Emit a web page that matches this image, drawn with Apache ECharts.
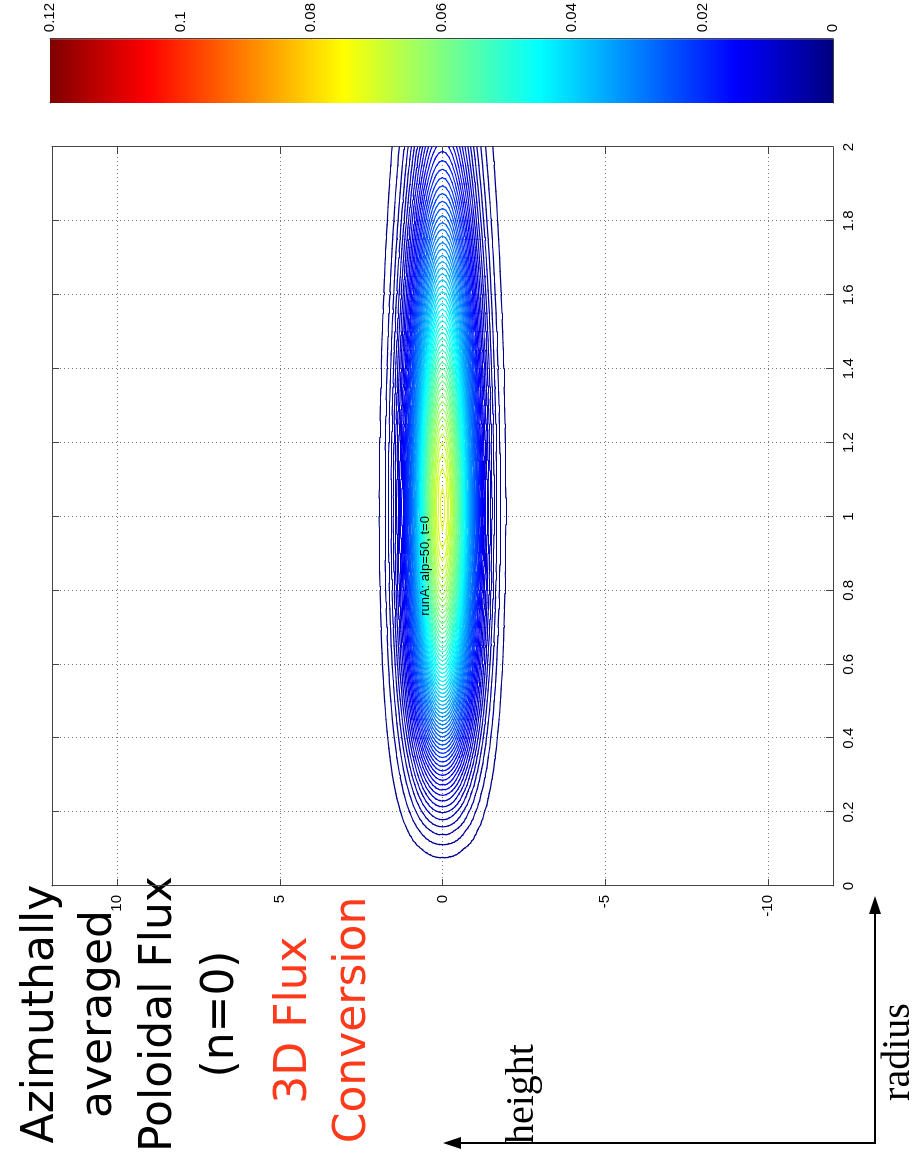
<!DOCTYPE html>
<html>
<head>
<meta charset="utf-8">
<title>runA: alp=50, t=0</title>
<script src="https://cdn.jsdelivr.net/npm/echarts@6/dist/echarts.min.js"></script>
<style>
  html, body { margin: 0; padding: 0; background: #fff; overflow: hidden; }
  /* the figure is drawn landscape and turned a quarter left, like the scanned page */
  #main {
    position: absolute; left: 0; top: 0;
    width: 1160px; height: 915px;
    transform-origin: 0 0;
    transform: translate(0, 1160px) rotate(-90deg);
  }
</style>
</head>
<body>
<div id="main"></div>
<script>
// radius samples (x axis) and the flux read along the midplane (height = 0)
var radius = [0, 0.05, 0.1, 0.15, 0.2, 0.25, 0.3, 0.35, 0.4, 0.45, 0.5, 0.55, 0.6, 0.65, 0.7, 0.75, 0.8, 0.85, 0.9, 0.95,
  1, 1.05, 1.1, 1.15, 1.2, 1.25, 1.3, 1.35, 1.4, 1.45, 1.5, 1.55, 1.6, 1.65, 1.7, 1.75, 1.8, 1.85, 1.9, 1.95, 2];
var midplaneFlux = [0, 0.00047, 0.00187, 0.00417, 0.0073, 0.01116, 0.01565, 0.02065, 0.02601, 0.0316, 0.03727,
  0.04288, 0.04829, 0.05337, 0.058, 0.0621, 0.06559, 0.06839, 0.07049, 0.07187, 0.0725, 0.07244, 0.07169,
  0.07033, 0.0684, 0.06597, 0.06312, 0.05993, 0.05648, 0.05282, 0.04907, 0.04525, 0.04143, 0.0377, 0.03407,
  0.03059, 0.02728, 0.02417, 0.0213, 0.01865, 0.01622];

// |height| samples and how the flux falls off away from the midplane (same above and below)
var heightOffsets = [0, 0.1, 0.2, 0.3, 0.4, 0.5, 0.6, 0.7, 0.8, 0.9, 1, 1.1, 1.2, 1.3, 1.4, 1.5, 1.6, 1.7, 1.8, 1.9,
  2, 2.1, 2.2, 2.3, 2.4, 2.5, 2.6, 2.7, 2.8, 2.9, 3];
var heightFalloff = [1, 0.98916, 0.95735, 0.90659, 0.84001, 0.76154, 0.67554, 0.58629, 0.4979, 0.41372, 0.33638,
  0.26757, 0.20825, 0.1586, 0.11817, 0.08616, 0.06146, 0.0429, 0.0293, 0.01958, 0.0128, 0.00819, 0.00512,
  0.00314, 0.00188, 0.0011, 0.00063, 0.00035, 0.00019, 0.0001, 0.00006];

// contour levels, colour scale of the colorbar
var levelCount = 60;
var levelStep = 0.0012;
var colorMin = 0;
var colorMax = 0.12;
var colorbarInterval = 0.02;

var radiusRange = [0, 2];
var heightRange = [-12, 12];

var titleText = 'runA: alp=50, t=0';
var noteLines = ['Azimuthally', 'averaged', 'Poloidal Flux', '(n=0)'];
var redLines = ['3D Flux', 'Conversion'];

// ---------------------------------------------------------------

// full height column, mirrored about the midplane
var heights = [];
var falloffCol = [];
for (var k = heightOffsets.length - 1; k > 0; k--) {
  heights.push(-heightOffsets[k]);
  falloffCol.push(heightFalloff[k]);
}
for (var k = 0; k < heightOffsets.length; k++) {
  heights.push(heightOffsets[k]);
  falloffCol.push(heightFalloff[k]);
}

var field = radius.map(function (r, i) {
  return heights.map(function (h, j) { return midplaneFlux[i] * falloffCol[j]; });
});

// MATLAB jet
function jet(v) {
  var t = (v - colorMin) / (colorMax - colorMin);
  function c(x) { return Math.round(255 * Math.max(0, Math.min(1, x))); }
  return 'rgb(' + c(1.5 - Math.abs(4 * t - 3)) + ',' + c(1.5 - Math.abs(4 * t - 2)) + ',' + c(1.5 - Math.abs(4 * t - 1)) + ')';
}

// contour segments by marching triangles on the radius x height grid
function crossTri(a, b, c, L, out) {
  var pts = [];
  [[a, b], [b, c], [c, a]].forEach(function (e) {
    var u = e[0], v = e[1];
    if ((u[2] >= L) !== (v[2] >= L)) {
      var t = (L - u[2]) / (v[2] - u[2]);
      pts.push([u[0] + t * (v[0] - u[0]), u[1] + t * (v[1] - u[1])]);
    }
  });
  if (pts.length === 2) out.push({ coords: pts });
}

function contour(L) {
  var segs = [];
  for (var i = 0; i < radius.length - 1; i++) {
    for (var j = 0; j < heights.length - 1; j++) {
      var p00 = [radius[i], heights[j], field[i][j]];
      var p01 = [radius[i], heights[j + 1], field[i][j + 1]];
      var p10 = [radius[i + 1], heights[j], field[i + 1][j]];
      var p11 = [radius[i + 1], heights[j + 1], field[i + 1][j + 1]];
      crossTri(p00, p01, p11, L, segs);
      crossTri(p00, p11, p10, L, segs);
    }
  }
  return segs;
}

var series = [];
for (var n = 1; n <= levelCount; n++) {
  var L = n * levelStep;
  series.push({
    type: 'lines',
    coordinateSystem: 'cartesian2d',
    xAxisIndex: 0,
    yAxisIndex: 0,
    silent: true,
    large: false,
    animation: false,
    z: 3,
    lineStyle: { color: jet(L), width: 1.2, opacity: 1, cap: 'round' },
    data: contour(L)
  });
}

// colorbar
series.push({
  type: 'bar',
  xAxisIndex: 2,
  yAxisIndex: 2,
  barWidth: '100%',
  silent: true,
  animation: false,
  itemStyle: {
    color: new echarts.graphic.LinearGradient(0, 1, 0, 0, [
      { offset: 0, color: jet(colorMin) },
      { offset: 0.125, color: 'rgb(0,0,255)' },
      { offset: 0.375, color: 'rgb(0,255,255)' },
      { offset: 0.625, color: 'rgb(255,255,0)' },
      { offset: 0.875, color: 'rgb(255,0,0)' },
      { offset: 1, color: jet(colorMax) }
    ])
  },
  data: [colorMax]
});

var edge = '#444';
var dotted = { show: true, lineStyle: { color: '#777', type: [1, 3], width: 1 } };

function boxAxis(extra) {
  var base = {
    type: 'value',
    axisLine: { show: true, onZero: false, lineStyle: { color: edge, width: 1 } },
    axisTick: { show: true, inside: true, length: 7, lineStyle: { color: edge } },
    axisLabel: { show: false },
    splitLine: { show: false }
  };
  for (var key in extra) base[key] = extra[key];
  return base;
}

var label = { show: true, color: '#000', fontSize: 15, fontFamily: 'Liberation Sans' };

var graphic = [
  {
    type: 'text', x: 594, y: 425, z: 10,
    style: { text: titleText, font: '13px "Liberation Sans"', fill: '#000',
      textAlign: 'center', align: 'center', textVerticalAlign: 'middle', verticalAlign: 'middle' }
  }
];
var noteY = [42, 100, 160, 222];
noteLines.forEach(function (t, i) {
  graphic.push({
    type: 'text', x: 146, y: noteY[i],
    style: { text: t, font: '44px "DejaVu Sans"', fill: '#000',
      textAlign: 'center', align: 'center', textVerticalAlign: 'middle', verticalAlign: 'middle' }
  });
});
var redY = [295, 354];
redLines.forEach(function (t, i) {
  graphic.push({
    type: 'text', x: 140, y: redY[i],
    style: { text: t, font: '44px "DejaVu Sans"', fill: '#ff3a1a',
      textAlign: 'center', align: 'center', textVerticalAlign: 'middle', verticalAlign: 'middle' }
  });
});
// height / radius arrows
graphic.push(
  { type: 'polyline', shape: { points: [[17, 875], [17, 455]] }, style: { stroke: '#000', lineWidth: 2, fill: null } },
  { type: 'polygon', shape: { points: [[17, 443], [11, 461], [23, 461]] }, style: { fill: '#000' } },
  { type: 'polyline', shape: { points: [[16, 875], [252, 875]] }, style: { stroke: '#000', lineWidth: 2, fill: null } },
  { type: 'polygon', shape: { points: [[264, 875], [246, 869], [246, 881]] }, style: { fill: '#000' } },
  { type: 'text', x: 16, y: 522,
    style: { text: 'height', font: '40px "Liberation Serif"', fill: '#000',
      textAlign: 'left', align: 'left', textVerticalAlign: 'middle', verticalAlign: 'middle' } },
  { type: 'text', x: 108, y: 898,
    style: { text: 'radius', font: '40px "Liberation Serif"', fill: '#000',
      textAlign: 'center', align: 'center', textVerticalAlign: 'middle', verticalAlign: 'middle' } }
);

var chart = echarts.init(document.getElementById('main'), null, { renderer: 'canvas' });
chart.setOption({
  animation: false,
  backgroundColor: '#fff',
  textStyle: { fontFamily: 'Liberation Sans' },
  grid: [
    { left: 274, top: 52, width: 739, height: 781 },
    { left: 1057, top: 50, width: 64, height: 783 }
  ],
  xAxis: [
    boxAxis({ gridIndex: 0, position: 'bottom', min: radiusRange[0], max: radiusRange[1], interval: 0.2,
      axisLabel: Object.assign({ margin: 8 }, label), splitLine: dotted }),
    boxAxis({ gridIndex: 0, position: 'top', min: radiusRange[0], max: radiusRange[1], interval: 0.2 }),
    boxAxis({ gridIndex: 1, type: 'category', data: ['flux'], position: 'bottom', axisTick: { show: false } }),
    boxAxis({ gridIndex: 1, type: 'category', data: ['flux'], position: 'top', axisTick: { show: false } })
  ],
  yAxis: [
    boxAxis({ gridIndex: 0, position: 'left', min: heightRange[0], max: heightRange[1],
      axisLabel: Object.assign({ margin: 9, showMinLabel: false, showMaxLabel: false }, label), splitLine: dotted }),
    boxAxis({ gridIndex: 0, position: 'right', min: heightRange[0], max: heightRange[1] }),
    boxAxis({ gridIndex: 1, position: 'right', min: colorMin, max: colorMax, interval: colorbarInterval,
      axisTick: { show: true, inside: true, length: 5, lineStyle: { color: edge } },
      axisLabel: Object.assign({ margin: 7 }, label) }),
    boxAxis({ gridIndex: 1, position: 'left', min: colorMin, max: colorMax, interval: colorbarInterval,
      axisTick: { show: true, inside: true, length: 5, lineStyle: { color: edge } } })
  ],
  graphic: graphic,
  series: series
});
</script>
</body>
</html>
